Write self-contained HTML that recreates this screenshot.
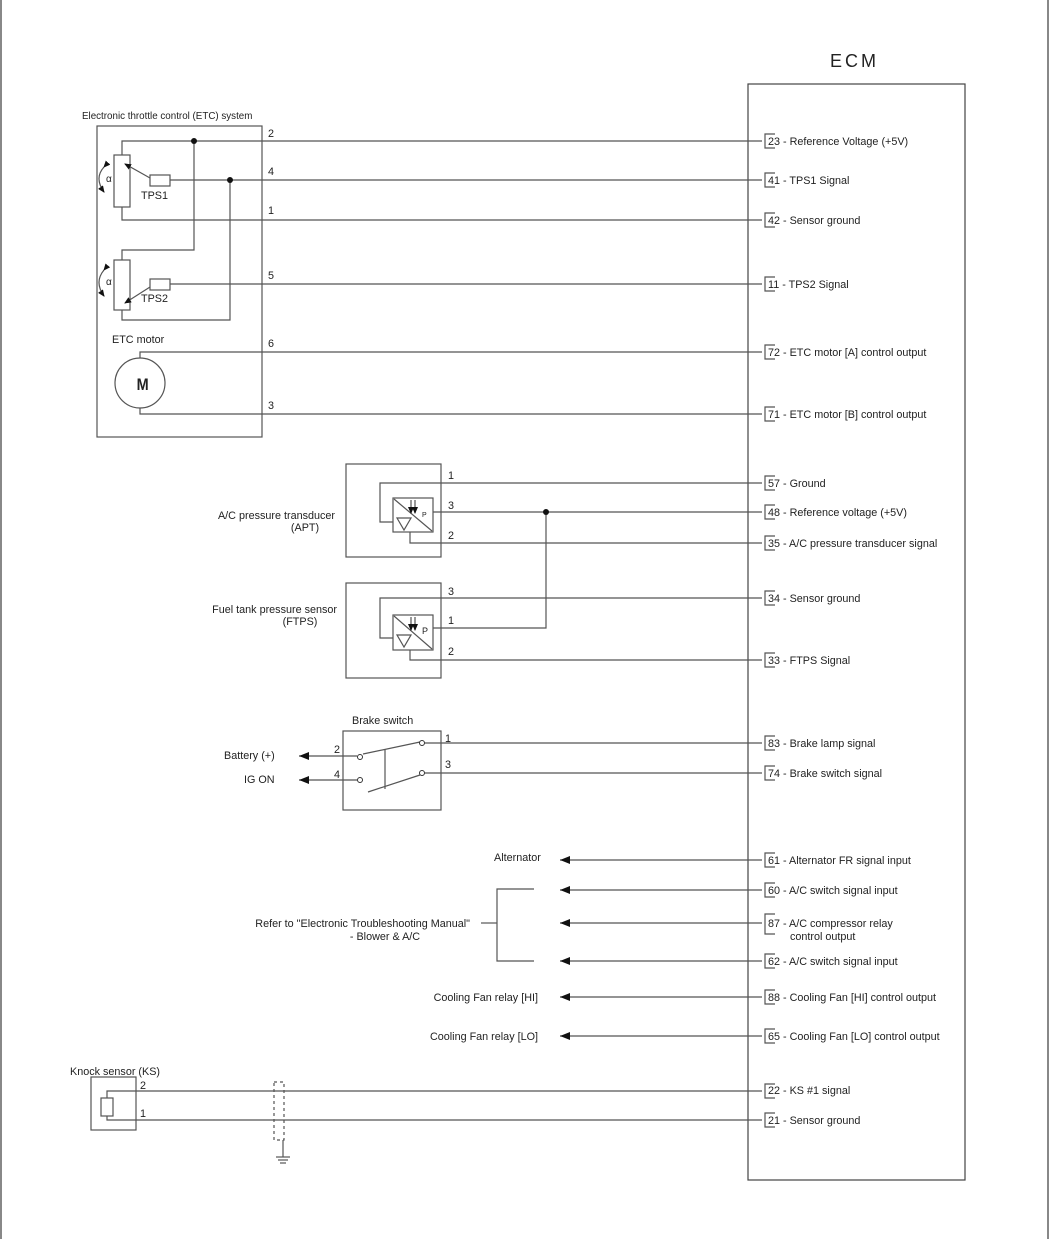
<!DOCTYPE html>
<html><head><meta charset="utf-8"><style>
html,body{margin:0;padding:0;background:#fff}
svg{display:block}
text{font-family:"Liberation Sans",sans-serif;font-size:10.8px;fill:#222}
</style></head><body>
<svg width="1050" height="1239" viewBox="0 0 1050 1239" xmlns="http://www.w3.org/2000/svg">
<defs>
<marker id="ar" markerWidth="10" markerHeight="8" refX="0" refY="4" orient="auto" markerUnits="userSpaceOnUse">
<path d="M10,0 L0,4 L10,8 Z" fill="#111"/></marker>
<marker id="sa" markerWidth="7" markerHeight="6" refX="6" refY="3" orient="auto" markerUnits="userSpaceOnUse">
<path d="M0,0 L7,3 L0,6 Z" fill="#111"/></marker>
</defs>
<g stroke="#555" fill="none" stroke-width="1.2">
<line x1="1" y1="0" x2="1" y2="1239" stroke="#888" stroke-width="2"/>
<line x1="1048" y1="0" x2="1048" y2="1239" stroke="#888" stroke-width="2"/>
<rect x="748" y="84" width="217" height="1096" stroke="#444"/>
<rect x="97" y="126" width="165" height="311"/>
<rect x="114" y="155" width="16" height="52"/>
<rect x="150" y="175" width="20" height="11"/>
<polyline points="122,155 122,141 762,141"/>
<polyline points="122,207 122,220 762,220"/>
<line x1="170" y1="180" x2="762" y2="180"/>
<line x1="150" y1="178" x2="125" y2="164" marker-end="url(#sa)"/>
<polyline points="194,141 194,250 122,250 122,260"/>
<rect x="114" y="260" width="16" height="50"/>
<rect x="150" y="279" width="20" height="11"/>
<line x1="170" y1="284" x2="762" y2="284"/>
<line x1="150" y1="287" x2="125" y2="303" marker-end="url(#sa)"/>
<polyline points="122,310 122,320 230,320 230,180"/>
<path d="M104,167 Q94,178 104,192" marker-start="url(#sa)" marker-end="url(#sa)"/>
<path d="M104,270 Q94,282 104,296" marker-start="url(#sa)" marker-end="url(#sa)"/>
<circle cx="140" cy="383" r="25"/>
<polyline points="140,358 140,352 762,352"/>
<polyline points="140,408 140,414 762,414"/>
<rect x="346" y="464" width="95" height="93"/>
<rect x="393" y="498" width="40" height="34"/>
<polyline points="762,483 380,483 380,522 393,522"/>
<line x1="433" y1="512" x2="762" y2="512"/>
<polyline points="410,532 410,543 762,543"/>
<line x1="394" y1="499" x2="432" y2="531"/>
<polygon points="397,518 411,518 404,530"/>
<line x1="411" y1="500" x2="411" y2="513" marker-end="url(#sa)"/>
<line x1="415" y1="500" x2="415" y2="513" marker-end="url(#sa)"/>
<rect x="346" y="583" width="95" height="95"/>
<rect x="393" y="615" width="40" height="35"/>
<polyline points="762,598 380,598 380,638 393,638"/>
<polyline points="433,628 546,628 546,512"/>
<polyline points="410,650 410,660 762,660"/>
<line x1="394" y1="616" x2="432" y2="649"/>
<polygon points="397,635 411,635 404,647"/>
<line x1="411" y1="617" x2="411" y2="630" marker-end="url(#sa)"/>
<line x1="415" y1="617" x2="415" y2="630" marker-end="url(#sa)"/>
<rect x="343" y="731" width="98" height="79"/>
<line x1="299" y1="756" x2="357" y2="756" marker-start="url(#ar)"/>
<line x1="299" y1="780" x2="357" y2="780" marker-start="url(#ar)"/>
<line x1="425" y1="743" x2="762" y2="743"/>
<line x1="425" y1="773" x2="762" y2="773"/>
<line x1="363" y1="754" x2="420" y2="742"/>
<line x1="368" y1="792" x2="420" y2="775"/>
<line x1="385" y1="749" x2="385" y2="789"/>
<line x1="560" y1="860" x2="762" y2="860" marker-start="url(#ar)"/>
<line x1="560" y1="890" x2="762" y2="890" marker-start="url(#ar)"/>
<line x1="560" y1="923" x2="762" y2="923" marker-start="url(#ar)"/>
<line x1="560" y1="961" x2="762" y2="961" marker-start="url(#ar)"/>
<line x1="560" y1="997" x2="762" y2="997" marker-start="url(#ar)"/>
<line x1="560" y1="1036" x2="762" y2="1036" marker-start="url(#ar)"/>
<polyline points="534,889 497,889 497,961 534,961"/>
<line x1="481" y1="923" x2="497" y2="923"/>
<rect x="91" y="1077" width="45" height="53"/>
<rect x="101" y="1098" width="12" height="18"/>
<polyline points="107,1098 107,1091 762,1091"/>
<polyline points="107,1116 107,1120 762,1120"/>
<rect x="274" y="1082" width="10" height="58" stroke-dasharray="3,3"/>
<line x1="283" y1="1140" x2="283" y2="1157"/>
<line x1="276" y1="1157" x2="290" y2="1157"/>
<line x1="278" y1="1160" x2="288" y2="1160"/>
<line x1="280" y1="1163" x2="286" y2="1163"/>
<path d="M775,134 L765,134 L765,148 L775,148"/>
<path d="M775,173 L765,173 L765,187 L775,187"/>
<path d="M775,213 L765,213 L765,227 L775,227"/>
<path d="M775,277 L765,277 L765,291 L775,291"/>
<path d="M775,345 L765,345 L765,359 L775,359"/>
<path d="M775,407 L765,407 L765,421 L775,421"/>
<path d="M775,476 L765,476 L765,490 L775,490"/>
<path d="M775,505 L765,505 L765,519 L775,519"/>
<path d="M775,536 L765,536 L765,550 L775,550"/>
<path d="M775,591 L765,591 L765,605 L775,605"/>
<path d="M775,653 L765,653 L765,667 L775,667"/>
<path d="M775,736 L765,736 L765,750 L775,750"/>
<path d="M775,766 L765,766 L765,780 L775,780"/>
<path d="M775,853 L765,853 L765,867 L775,867"/>
<path d="M775,883 L765,883 L765,897 L775,897"/>
<path d="M775,914 L765,914 L765,934 L775,934"/>
<path d="M775,954 L765,954 L765,968 L775,968"/>
<path d="M775,990 L765,990 L765,1004 L775,1004"/>
<path d="M775,1029 L765,1029 L765,1043 L775,1043"/>
<path d="M775,1084 L765,1084 L765,1098 L775,1098"/>
<path d="M775,1113 L765,1113 L765,1127 L775,1127"/>
</g>
<g fill="#111">
<circle cx="194" cy="141" r="3"/><circle cx="230" cy="180" r="3"/><circle cx="546" cy="512" r="3"/>
<circle cx="360" cy="757" r="2.5" fill="#fff" stroke="#333"/>
<circle cx="360" cy="780" r="2.5" fill="#fff" stroke="#333"/>
<circle cx="422" cy="743" r="2.5" fill="#fff" stroke="#333"/>
<circle cx="422" cy="773" r="2.5" fill="#fff" stroke="#333"/>
</g>
<text x="830" y="67" style="font-size:18px;letter-spacing:3px">ECM</text>
<text x="82" y="119" style="font-size:9.8px">Electronic throttle control (ETC) system</text>
<text x="141" y="199">TPS1</text><text x="141" y="302">TPS2</text>
<text x="106" y="182" style="font-size:10px">α</text><text x="106" y="285" style="font-size:10px">α</text>
<text x="112" y="343">ETC motor</text>
<text x="133" y="390" style="font-size:17px;font-weight:bold" transform="translate(140 0) scale(0.85 1) translate(-137 0)">M</text>
<text x="268" y="137">2</text><text x="268" y="175">4</text><text x="268" y="214">1</text>
<text x="268" y="279">5</text><text x="268" y="347">6</text><text x="268" y="409">3</text>
<text x="448" y="479">1</text><text x="448" y="509">3</text><text x="448" y="539">2</text>
<text x="448" y="595">3</text><text x="448" y="624">1</text><text x="448" y="655">2</text>
<text x="422" y="517" style="font-size:7px">P</text><text x="422" y="634" style="font-size:9px">P</text>
<text x="335" y="519" text-anchor="end">A/C pressure transducer</text>
<text x="305" y="531" text-anchor="middle">(APT)</text>
<text x="337" y="613" text-anchor="end">Fuel tank pressure sensor</text>
<text x="300" y="625" text-anchor="middle">(FTPS)</text>
<text x="352" y="724">Brake switch</text>
<text x="334" y="753">2</text><text x="334" y="778">4</text><text x="445" y="742">1</text><text x="445" y="768">3</text>
<text x="224" y="759">Battery (+)</text><text x="244" y="783">IG ON</text>
<text x="494" y="861">Alternator</text>
<text x="470" y="927" text-anchor="end">Refer to "Electronic Troubleshooting Manual"</text>
<text x="385" y="940" text-anchor="middle">- Blower &amp; A/C</text>
<text x="538" y="1001" text-anchor="end">Cooling Fan relay [HI]</text>
<text x="538" y="1040" text-anchor="end">Cooling Fan relay [LO]</text>
<text x="70" y="1075">Knock sensor (KS)</text>
<text x="140" y="1089">2</text><text x="140" y="1117">1</text>
<text x="768" y="145">23 - Reference Voltage (+5V)</text>
<text x="768" y="184">41 - TPS1 Signal</text>
<text x="768" y="224">42 - Sensor ground</text>
<text x="768" y="288">11 - TPS2 Signal</text>
<text x="768" y="356">72 - ETC motor [A] control output</text>
<text x="768" y="418">71 - ETC motor [B] control output</text>
<text x="768" y="487">57 - Ground</text>
<text x="768" y="516">48 - Reference voltage (+5V)</text>
<text x="768" y="547">35 - A/C pressure transducer signal</text>
<text x="768" y="602">34 - Sensor ground</text>
<text x="768" y="664">33 - FTPS Signal</text>
<text x="768" y="747">83 - Brake lamp signal</text>
<text x="768" y="777">74 - Brake switch signal</text>
<text x="768" y="864">61 - Alternator FR signal input</text>
<text x="768" y="894">60 - A/C switch signal input</text>
<text x="768" y="927">87 - A/C compressor relay</text>
<text x="790" y="940">control output</text>
<text x="768" y="965">62 - A/C switch signal input</text>
<text x="768" y="1001">88 - Cooling Fan [HI] control output</text>
<text x="768" y="1040">65 - Cooling Fan [LO] control output</text>
<text x="768" y="1094">22 - KS #1 signal</text>
<text x="768" y="1124">21 - Sensor ground</text>
</svg>
</body></html>
